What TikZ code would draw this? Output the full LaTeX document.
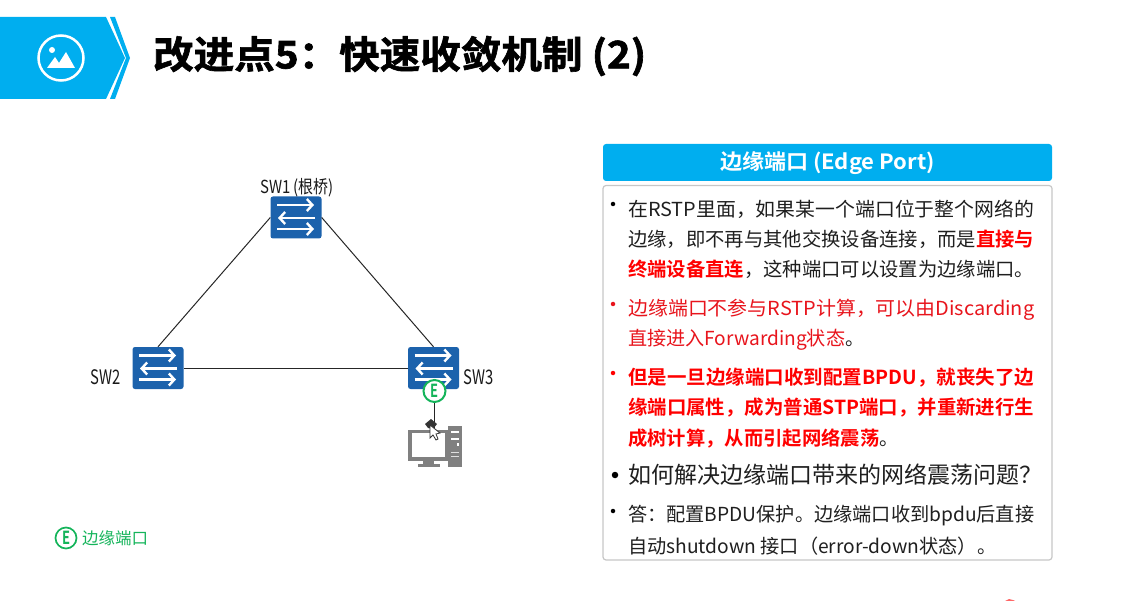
\documentclass[tikz,border=0pt]{standalone}
\usepackage{fontspec}
\usepackage{graphicx}
\setmainfont{Noto Sans CJK SC}[BoldFont={* Bold}]
\newfontfamily\heavyfont{Noto Sans CJK SC Bold}[FakeBold=1.6]
\usetikzlibrary{arrows.meta}
\definecolor{hdr}{HTML}{00AEEF}
\definecolor{swblue}{HTML}{1C62AC}
\definecolor{edgegreen}{HTML}{14B45A}
\definecolor{redtxt}{HTML}{E8141C}
\definecolor{pcgray}{HTML}{808080}
\newcommand{\bodysize}{\fontsize{19.33}{23}\selectfont}
\newcommand{\fitw}[2]{\resizebox{#1pt}{\height}{#2}}
\newcommand{\rb}[1]{\textcolor{red}{\textbf{#1}}}
\newcommand{\swarrows}[1]{%
  \draw[swarr] ([shift={(-19,-12.5)}]#1.center) -- ([shift={(18,-12.5)}]#1.center);
  \draw[swarr] ([shift={(19,0.5)}]#1.center) -- ([shift={(-18,0.5)}]#1.center);
  \draw[swarr] ([shift={(-19,11.5)}]#1.center) -- ([shift={(18,11.5)}]#1.center);
}
\tikzset{
  swnode/.style={fill=swblue,rounded corners=2.5pt,minimum width=51pt,minimum height=42pt,inner sep=0pt,draw=none},
  swarr/.style={draw=white,line width=2.4pt,-{Straight Barb[length=5.5pt,width=12pt,line width=2.4pt]}},
  link/.style={draw=black!85,line width=1pt},
  swlabel/.style={inner sep=0pt,text=black!90},
  txt/.style={anchor=west,inner sep=0pt,font=\bodysize,text=black!88},
  bul/.style={circle,fill=#1,inner sep=0pt,minimum size=4.5pt},
  badge/.style={circle,draw=edgegreen,fill=white,line width=2pt,minimum size=22pt,inner sep=0pt,text=edgegreen,font=\bfseries\fontsize{18}{18}\selectfont},
}
\begin{document}
\begin{tikzpicture}[x=1pt,y=-1pt]
\useasboundingbox (0,0) rectangle (1134,601);
% banner
\fill[hdr] (0,17) -- (106,17) -- (125,58) -- (106,99) -- (0,99) -- cycle;
\fill[hdr] (110,17) -- (115,17) -- (130,58) -- (115,99) -- (110,99) -- (126,58) -- cycle;
\draw[white,line width=2.5pt] (61,58) circle (22.5);
\fill[white] (47,68) -- (55,57) -- (59,63) -- (66,52) -- (75,68) -- cycle;
\fill[white] (52,50) circle (3);
\node[anchor=west,inner sep=0pt,font=\heavyfont\fontsize{38}{40}\selectfont,text=black] (title) at (153,56) {\fitw{493}{改进点5：快速收敛机制 (2)}};
% switches
\node[swnode] (sw1) at (296,217.5) {};
\node[swnode] (sw2) at (158,368) {};
\node[swnode] (sw3) at (433.5,368) {};
\swarrows{sw1}\swarrows{sw2}\swarrows{sw3}
\coordinate (pctop) at (434.5,428);
\draw[link] (sw1.west) -- (sw2.north);
\draw[link] (sw1.east) -- (sw3.north);
\draw[link] (sw2.east) -- (sw3.west);
\node[badge] (eb) at (434.5,391) {\scalebox{0.72}[1]{E}};
\draw[link] (eb.south) -- (pctop);
\node[swlabel] (l1) at (297,188) {\fontsize{18}{18}\selectfont\scalebox{0.83}[1]{SW1 (根桥)}};
\node[swlabel] (l2) at (106,377.5) {\fontsize{20}{20}\selectfont\scalebox{0.74}[1]{SW2}};
\node[swlabel] (l3) at (479,377.5) {\fontsize{20}{20}\selectfont\scalebox{0.74}[1]{SW3}};
% computer
\fill[pcgray] (448,426) rectangle (462,467);
\fill[white] (451,431) rectangle (459,433);
\fill[white] (451,438) rectangle (459,439.5);
\fill[white] (457,443) rectangle (459,446);
\fill[white!75!pcgray] (451,452) rectangle (459,453);
\fill[white!75!pcgray] (451,456) rectangle (459,457);
\fill[pcgray] (408,430) rectangle (448,461);
\fill[white] (412,433) rectangle (445,457);
\fill[pcgray] (423,461) rectangle (434,464);
\fill[pcgray] (418,464) rectangle (440,467);
% cursor
\fill[black!80] (425,424) -- (431,419) -- (437,424) -- (433,429) -- (428,428) -- cycle;
\filldraw[fill=white,draw=black!80,line width=0.8pt] (430,425) -- (430,438) -- (433,435) -- (436,440) -- (438,439) -- (436,434) -- (440,433) -- cycle;
% legend
\node[badge,line width=1.7pt,minimum size=21pt] (leg) at (66,538) {\scalebox{0.72}[1]{E}};
\node[anchor=west,inner sep=0pt,text=edgegreen,font=\fontsize{16.5}{17}\selectfont] (legt) at (82,538.5) {边缘端口};
% panel
\node[fill=hdr,rounded corners=3pt,minimum width=449pt,minimum height=37pt,inner sep=0pt] (head) at (827.5,162.5) {};
\node[text=white,inner sep=0pt,font=\bfseries\fontsize{21}{21}\selectfont] (headt) at (827.5,163.5) {\fitw{215}{边缘端口 (Edge Port)}};
\draw[draw=black!22,line width=1.2pt,fill=white,rounded corners=3pt] (603,185.5) rectangle (1052,560);
% lines
\node[bul=black] (b1) at (613,204) {};
\node[txt] (t1) at (628,209) {\fitw{406}{在RSTP里面，如果某一个端口位于整个网络的}};
\node[txt] (t2) at (628,239) {\fitw{406}{边缘，即不再与其他交换设备连接，而是\rb{直接与}}};
\node[txt] (t3) at (628,269) {\fitw{406}{\rb{终端设备直连}，这种端口可以设置为边缘端口。}};
\node[bul=redtxt] (b2) at (613,304) {};
\node[txt,text=redtxt] (t4) at (628,309.5) {\fitw{406}{边缘端口不参与RSTP计算，可以由Discarding}};
\node[txt] (t5) at (628,339.5) {\fitw{236}{\textcolor{redtxt}{直接进入Forwarding状态}。}};
\node[bul=red] (b3) at (613,373) {};
\node[txt,text=red,font=\bodysize\bfseries] (t6) at (628,378) {\fitw{406}{但是一旦边缘端口收到配置BPDU，就丧失了边}};
\node[txt,text=red,font=\bodysize\bfseries] (t7) at (628,408) {\fitw{406}{缘端口属性，成为普通STP端口，并重新进行生}};
\node[txt] (t8) at (628,438) {\rb{成树计算，从而引起网络震荡}。};
\node[bul=black,minimum size=6.5pt] (b4) at (615,475) {};
\node[txt,font=\fontsize{23}{24}\selectfont] (t9) at (628,475) {如何解决边缘端口带来的网络震荡问题？};
\node[bul=black] (b5) at (613,511) {};
\node[txt] (t10) at (628,516) {\fitw{406}{答：配置BPDU保护。边缘端口收到bpdu后直接}};
\node[txt] (t11) at (628,546) {\fitw{368}{自动shutdown 接口（error-down状态）。}};
% stray mark at the lower edge
\fill[red!60] (1005,601) -- (1009,599) -- (1013,600) -- (1015,601) -- cycle;
\end{tikzpicture}
\end{document}
